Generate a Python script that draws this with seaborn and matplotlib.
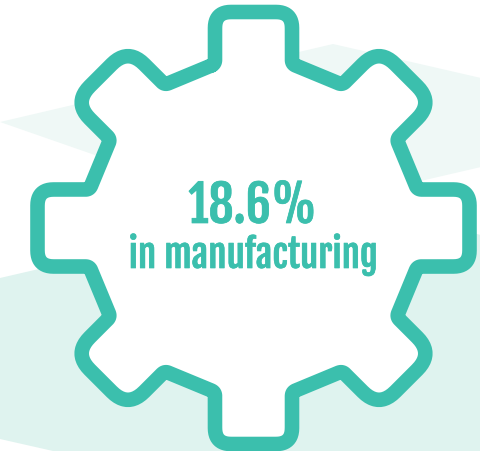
import numpy as np
import matplotlib.pyplot as plt
import matplotlib.patheffects as pe
import seaborn as sns

# text
value_label = "18.6%"
sector_label = "in manufacturing"

# colours
teal = "#3BBFAD"
pale = "#EFF8F6"
pale_dark = "#DFF3EF"

# background shapes, picture pixels
upper_x = [0, 333, 481, 481, 270]
upper_y = [123, 45, 79, 168, 217]
lower_x = [0, 337, 481, 481, 53, 0]
lower_y = [279, 201, 236, 452, 452, 440]

# one tooth, offsets from the gear centre
center_x, center_y = 253.5, 229
tooth_half = 38.5
tooth_top = 216
tooth_base = 164
tip_radius = 16
diag_tip_radius = 23
root_radius = 4


def corner(p0, p1, p2, r, n=12):
    # rounding of the corner p1
    a = p1 + (p0 - p1) / np.linalg.norm(p0 - p1) * r
    b = p1 + (p2 - p1) / np.linalg.norm(p2 - p1) * r
    t = np.linspace(0, 1, n)[:, None]
    return (1 - t) ** 2 * a + 2 * t * (1 - t) * p1 + t ** 2 * b


def gear_outline():
    verts, radii = [], []
    for k in range(8):
        ang = np.deg2rad(45 * k)
        rot = np.array([[np.cos(ang), np.sin(ang)], [-np.sin(ang), np.cos(ang)]])
        tip = diag_tip_radius if k % 2 else tip_radius
        for u, v, r in [(-tooth_half, tooth_base, root_radius), (-tooth_half, tooth_top, tip),
                        (tooth_half, tooth_top, tip), (tooth_half, tooth_base, root_radius)]:
            verts.append(rot @ np.array([u, v]))
            radii.append(r)
    pts = []
    for i in range(len(verts)):
        pts.append(corner(verts[i - 1], verts[i], verts[(i + 1) % len(verts)], radii[i]))
    pts = np.vstack(pts)
    pts = np.vstack([pts, pts[:2]])
    return center_x + pts[:, 0], center_y - pts[:, 1]


sns.set_theme(style="white")
plt.rcParams['font.family'] = ['Fjalla One', 'Oswald', 'DejaVu Sans']

fig, ax = plt.subplots(figsize=(4.81, 4.52), dpi=100)
fig.subplots_adjust(left=0, right=1, top=1, bottom=0)

ax.fill(upper_x, upper_y, color=pale, lw=0, zorder=1)
ax.fill(lower_x, lower_y, color=pale_dark, lw=0, zorder=1)

gear_x, gear_y = gear_outline()
ax.fill(gear_x, gear_y, color="white", lw=0, zorder=2)
sns.lineplot(x=gear_x, y=gear_y, sort=False, estimator=None, color=teal, lw=10.5, ax=ax,
             solid_joinstyle="round", solid_capstyle="round", zorder=3)

bold = [pe.withStroke(linewidth=0.5, foreground=teal)]
ax.text(252.5, 207.5, value_label, color=teal, fontsize=36, ha="center", va="center", zorder=4, path_effects=bold)
ax.text(253.5, 256, sector_label, color=teal, fontsize=26.7, ha="center", va="center", zorder=4, path_effects=bold)

ax.set_xlim(0, 481)
ax.set_ylim(452, 0)
ax.axis("off")

plt.savefig("out.png", dpi=100)
plt.close()
